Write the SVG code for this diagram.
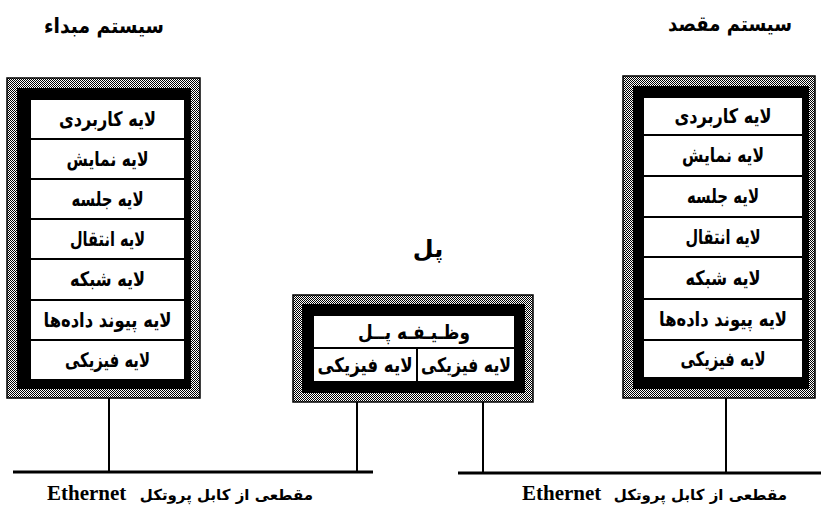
<svg xmlns="http://www.w3.org/2000/svg" width="821" height="528" viewBox="0 0 821 528">
<defs>
<pattern id="dither" width="2" height="2" patternUnits="userSpaceOnUse">
<rect width="2" height="2" fill="#ffffff"/>
<rect width="1" height="1" fill="#000"/>
<rect x="1" y="1" width="1" height="1" fill="#000"/>
</pattern>
</defs>
<style>
.frame{fill:url(#dither);stroke:#000;stroke-width:1.5}
.band{fill:#000}
.cell{fill:#fff;stroke:#000;stroke-width:2}
.fa{font-family:"DejaVu Sans",sans-serif;font-weight:bold;font-size:20px;fill:#000;text-anchor:middle}
.title{font-family:"DejaVu Sans",sans-serif;font-weight:bold;font-size:21px;fill:#000;text-anchor:middle}
.lab{font-family:"DejaVu Sans",sans-serif;font-weight:bold;font-size:15px;fill:#000;text-anchor:end}
.en{font-family:"Liberation Serif",serif;font-weight:bold;font-size:21px;fill:#000;text-anchor:start}
.wire{stroke:#000;stroke-width:2;fill:none}
.bus{stroke:#000;stroke-width:3;fill:none}
</style>
<rect width="821" height="528" fill="#fff"/>

<text class="title" x="104" y="33" textLength="120" lengthAdjust="spacingAndGlyphs">سیستم مبداء</text>
<text class="title" x="730" y="31" textLength="124" lengthAdjust="spacingAndGlyphs">سیستم مقصد</text>
<text class="title" x="428" y="257" style="font-size:24px">پل</text>

<g id="connectors">
<line class="wire" x1="109" y1="398" x2="109" y2="472"/>
<line class="wire" x1="357" y1="402" x2="357" y2="472"/>
<line class="wire" x1="483" y1="402" x2="483" y2="473"/>
<line class="wire" x1="726" y1="398" x2="726" y2="473"/>
<line class="bus" x1="13" y1="472" x2="373" y2="472"/>
<line class="bus" x1="458" y1="473" x2="821" y2="473"/>
</g>

<g id="source-system">
<rect class="frame" x="7" y="78" width="193" height="320"/>
<rect class="band" x="17" y="88" width="174" height="301"/>
<rect class="cell" x="30" y="99" width="155" height="40"/>
<rect class="cell" x="30" y="139" width="155" height="40"/>
<rect class="cell" x="30" y="179" width="155" height="40"/>
<rect class="cell" x="30" y="219" width="155" height="40"/>
<rect class="cell" x="30" y="259" width="155" height="41"/>
<rect class="cell" x="30" y="300" width="155" height="40"/>
<rect class="cell" x="30" y="340" width="155" height="40"/>
<text class="fa" x="107.5" y="126" textLength="97" lengthAdjust="spacingAndGlyphs">لایه کاربردی</text>
<text class="fa" x="107.5" y="166" textLength="82" lengthAdjust="spacingAndGlyphs">لایه نمایش</text>
<text class="fa" x="107.5" y="206" textLength="72" lengthAdjust="spacingAndGlyphs">لایه جلسه</text>
<text class="fa" x="107.5" y="246" textLength="75" lengthAdjust="spacingAndGlyphs">لایه انتقال</text>
<text class="fa" x="107.5" y="286" textLength="75" lengthAdjust="spacingAndGlyphs">لایه شبکه</text>
<text class="fa" x="107.5" y="327" textLength="128" lengthAdjust="spacingAndGlyphs">لایه پیوند داده‌ها</text>
<text class="fa" x="107.5" y="367" textLength="85" lengthAdjust="spacingAndGlyphs">لایه فیزیکی</text>
</g>

<g id="bridge">
<rect class="frame" x="293" y="295" width="240" height="107"/>
<rect class="band" x="302" y="304" width="223" height="89"/>
<rect class="cell" x="313" y="315" width="202" height="33"/>
<rect class="cell" x="313" y="348" width="104" height="34"/>
<rect class="cell" x="417" y="348" width="98" height="34"/>
<text class="fa" x="414" y="339" textLength="112" lengthAdjust="spacingAndGlyphs">وظـیـفـه پــل</text>
<text class="fa" x="365" y="372" textLength="95" lengthAdjust="spacingAndGlyphs">لایه فیزیکی</text>
<text class="fa" x="466" y="372" textLength="90" lengthAdjust="spacingAndGlyphs">لایه فیزیکی</text>
</g>

<g id="destination-system">
<rect class="frame" x="623" y="76" width="192" height="322"/>
<rect class="band" x="633" y="86" width="176" height="303"/>
<rect class="cell" x="643" y="97" width="160" height="38"/>
<rect class="cell" x="643" y="135" width="160" height="41"/>
<rect class="cell" x="643" y="176" width="160" height="41"/>
<rect class="cell" x="643" y="217" width="160" height="40"/>
<rect class="cell" x="643" y="257" width="160" height="42"/>
<rect class="cell" x="643" y="299" width="160" height="41"/>
<rect class="cell" x="643" y="340" width="160" height="38"/>
<text class="fa" x="723" y="123" textLength="97" lengthAdjust="spacingAndGlyphs">لایه کاربردی</text>
<text class="fa" x="723" y="162" textLength="82" lengthAdjust="spacingAndGlyphs">لایه نمایش</text>
<text class="fa" x="723" y="203" textLength="72" lengthAdjust="spacingAndGlyphs">لایه جلسه</text>
<text class="fa" x="723" y="244" textLength="75" lengthAdjust="spacingAndGlyphs">لایه انتقال</text>
<text class="fa" x="723" y="285" textLength="75" lengthAdjust="spacingAndGlyphs">لایه شبکه</text>
<text class="fa" x="723" y="326" textLength="128" lengthAdjust="spacingAndGlyphs">لایه پیوند داده‌ها</text>
<text class="fa" x="723" y="366" textLength="85" lengthAdjust="spacingAndGlyphs">لایه فیزیکی</text>
</g>

<g id="labels">
<text class="en" x="47" y="500">Ethernet</text>
<text class="lab" x="313" y="500">مقطعی از کابل پروتکل</text>
<text class="en" x="522" y="500">Ethernet</text>
<text class="lab" x="787" y="500">مقطعی از کابل پروتکل</text>
</g>
</svg>
